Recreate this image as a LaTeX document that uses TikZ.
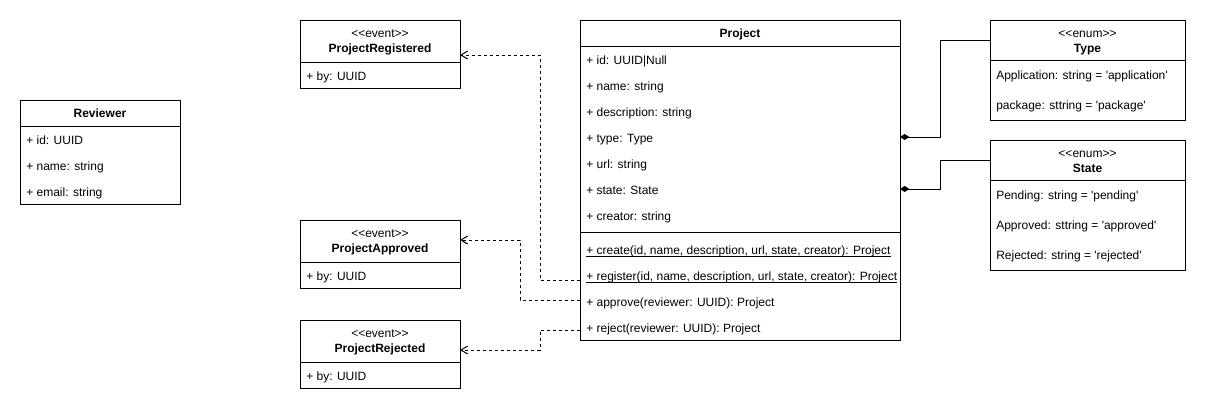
\documentclass[tikz,border=0pt]{standalone}
\usepackage{fontspec}
\setmainfont{Liberation Sans}[Ligatures=TeXOff]
\usetikzlibrary{arrows.meta}
\newcommand{\stereo}[1]{<\kern0pt<#1>\kern0pt>}
% underline set just below the baseline, through the descenders
\newcommand{\staticul}[1]{\setbox0\hbox{#1}\rlap{\rule[-1.6pt]{\wd0}{0.6pt}}\box0}
\begin{document}
\begin{tikzpicture}[x=0.75pt,y=-0.75pt,
  box/.style={draw,line width=0.75pt,anchor=north west,inner sep=0,outer sep=0},
  lbl/.style={anchor=west,inner sep=0,font=\fontsize{9}{11}\selectfont,text height=6.5pt,text depth=0pt},
  ttl/.style={inner sep=0,font=\fontsize{9}{11}\selectfont\bfseries,text height=6.5pt,text depth=0pt},
  ster/.style={inner sep=0,font=\fontsize{9}{11}\selectfont,text height=6.5pt,text depth=0pt},
  dep/.style={draw,line width=0.75pt,dash pattern=on 2.25pt off 2.25pt,-{Straight Barb[length=5pt,width=6pt]}},
  comp/.style={draw,line width=0.75pt,{Diamond[length=7pt,width=4.5pt]}-},
  sep/.style={line width=0.75pt}
]
\useasboundingbox (0,0) rectangle (1206,412);

% Reviewer class
\node[box,minimum width=120pt,minimum height=78pt] (rev) at (20,100) {};
\draw[sep] (rev.west |- 0,126) -- (rev.east |- 0,126);
\node[ttl] (revt) at (100,113) {Reviewer};
\node[lbl] (rev1) at (26,140) {+ id: UUID};
\node[lbl] (rev2) at (26,166) {+ name: string};
\node[lbl] (rev3) at (26,192) {+ email: string};

% Event classes
\node[box,minimum width=120pt,minimum height=51pt] (evreg) at (300,20) {};
\draw[sep] (evreg.west |- 0,62) -- (evreg.east |- 0,62);
\node[ster] (evregs) at (380,33) {\stereo{event}};
\node[ttl] (evregt) at (380,48) {ProjectRegistered};
\node[lbl] (evreg1) at (306,76) {+ by: UUID};

\node[box,minimum width=120pt,minimum height=51pt] (evapp) at (300,220) {};
\draw[sep] (evapp.west |- 0,262) -- (evapp.east |- 0,262);
\node[ster] (evapps) at (380,233) {\stereo{event}};
\node[ttl] (evappt) at (380,248) {ProjectApproved};
\node[lbl] (evapp1) at (306,276) {+ by: UUID};

\node[box,minimum width=120pt,minimum height=51pt] (evrej) at (300,320) {};
\draw[sep] (evrej.west |- 0,362) -- (evrej.east |- 0,362);
\node[ster] (evrejs) at (380,333) {\stereo{event}};
\node[ttl] (evrejt) at (380,348) {ProjectRejected};
\node[lbl] (evrej1) at (306,376) {+ by: UUID};

% Project class
\node[box,minimum width=240pt,minimum height=240pt] (prj) at (580,20) {};
\draw[sep] (prj.west |- 0,46) -- (prj.east |- 0,46);
\draw[sep] (prj.west |- 0,232) -- (prj.east |- 0,232);
\node[ttl] (prjt) at (740,33) {Project};
\node[lbl] (pa1) at (586,60) {+ id: UUID|Null};
\node[lbl] (pa2) at (586,86) {+ name: string};
\node[lbl] (pa3) at (586,112) {+ description: string};
\node[lbl] (pa4) at (586,138) {+ type: Type};
\node[lbl] (pa5) at (586,164) {+ url: string};
\node[lbl] (pa6) at (586,190) {+ state: State};
\node[lbl] (pa7) at (586,216) {+ creator: string};
\node[lbl] (mcre) at (586,250) {\staticul{+ create(id, name, description, url, state, creator): Project}};
\node[lbl] (mreg) at (586,276) {\staticul{+ register(id, name, description, url, state, creator): Project}};
\node[lbl] (mapp) at (586,302) {+ approve(reviewer: UUID): Project};
\node[lbl] (mrej) at (586,328) {+ reject(reviewer: UUID): Project};

% Enumerations
\node[box,minimum width=146.25pt,minimum height=75pt] (type) at (990,20) {};
\draw[sep] (type.west |- 0,60) -- (type.east |- 0,60);
\node[ster] (types) at (1087.5,33) {\stereo{enum}};
\node[ttl] (typet) at (1087.5,48) {Type};
\node[lbl] (type1) at (996,75) {Application: string = 'application'};
\node[lbl] (type2) at (996,105) {package: sttring = 'package'};

\node[box,minimum width=146.25pt,minimum height=97.5pt] (state) at (990,140) {};
\draw[sep] (state.west |- 0,180) -- (state.east |- 0,180);
\node[ster] (states) at (1087.5,153) {\stereo{enum}};
\node[ttl] (statet) at (1087.5,168) {State};
\node[lbl] (state1) at (996,195) {Pending: string = 'pending'};
\node[lbl] (state2) at (996,225) {Approved: sttring = 'approved'};
\node[lbl] (state3) at (996,255) {Rejected: string = 'rejected'};

% Dependencies from the methods to the events they emit
\draw[dep] (prj.west |- 0,280) -- ++(-40,0) |- (evreg.east |- 0,55);
\draw[dep] (prj.west |- 0,300) -- ++(-60,0) |- (evapp.east |- 0,240);
\draw[dep] (prj.west |- 0,330) -- ++(-40,0) |- (evrej.east |- 0,350);

% Compositions with the enumerations
\draw[comp] (prj.east |- 0,137) -- ++(40,0) |- (type.west |- 0,40);
\draw[comp] (prj.east |- 0,189) -- ++(40,0) |- (state.west |- 0,160);
\end{tikzpicture}
\end{document}
